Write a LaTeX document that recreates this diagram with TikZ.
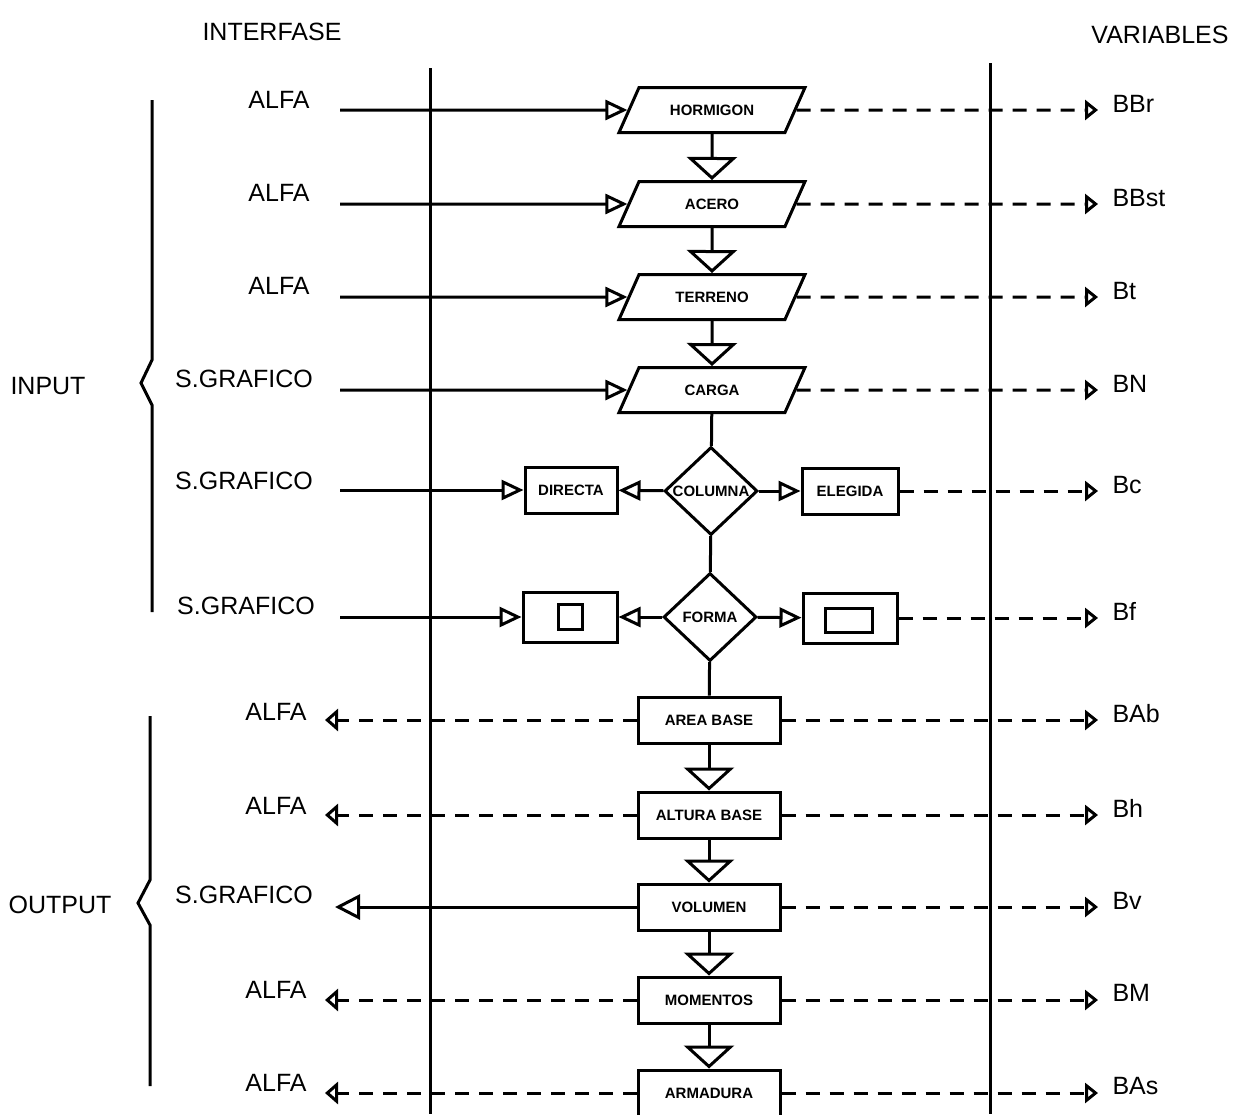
\documentclass[tikz,border=0pt]{standalone}
\usepackage{fontspec}
\setmainfont{Liberation Sans}
\usetikzlibrary{arrows.meta,shapes.geometric}
\begin{document}
\begin{tikzpicture}[x=1pt,y=-1pt,line width=3pt,
  lbl/.style={font=\fontsize{25}{25}\selectfont,inner sep=0pt},
  boxtxt/.style={font=\fontsize{15}{15}\selectfont\bfseries,inner sep=0pt},
  para/.style={draw,trapezium,trapezium left angle=66,trapezium right angle=114,
    trapezium stretches body,minimum width=186pt,text height=11pt,text depth=0pt,
    inner xsep=0pt,inner ysep=17pt,
    font=\fontsize{15}{15}\selectfont\bfseries},
  obox/.style={draw,rectangle,minimum width=142pt,minimum height=46pt,inner sep=0pt,
    font=\fontsize{15}{15}\selectfont\bfseries},
  sbox/.style={draw,rectangle,minimum height=46pt,inner sep=0pt,
    font=\fontsize{15}{15}\selectfont\bfseries},
  dia/.style={draw,diamond,minimum width=93pt,minimum height=88pt,inner sep=0pt},
  inarrow/.style={-{Triangle[open,length=22pt,width=20pt]}},
  flow/.style={-{Triangle[open,length=23pt,width=50pt]}},
  dsh/.style={dash pattern=on 14pt off 10pt},
  varrow/.style={dsh,-{Triangle[open,length=13pt,width=20pt]}},
  oarrow/.style={dsh,-{Triangle[open,length=13pt,width=22pt]}},
  sarrow/.style={-{Triangle[open,length=25pt,width=25pt]}}]
\useasboundingbox (0,0) rectangle (1233,1114);

% headers
\node[lbl] (hint) at (272,32) {INTERFASE};
\node[lbl] (hvar) at (1160,35) {VARIABLES};
\node[lbl] (inp) at (48,386) {INPUT};
\node[lbl] (outp) at (60,905) {OUTPUT};

% braces
\draw (152,100) -- (152,360) -- (141,383) -- (152,405) -- (152,612);
\draw (150,716) -- (150,880) -- (138,903) -- (150,925) -- (150,1086);

% vertical separators
\draw (430,68) -- (430,1114);
\draw (990,63) -- (990,1114);

% main column
\node[para] (hor) at (712,110) {HORMIGON};
\node[para] (ace) at (712,204) {ACERO};
\node[para] (ter) at (712,297) {TERRENO};
\node[para] (car) at (712,390) {CARGA};
\node[dia,label={[boxtxt]center:COLUMNA}] (col) at (711,491) {};
\node[sbox,minimum width=92pt] (dir) at (571,490) {DIRECTA};
\node[sbox,minimum width=96pt] (ele) at (850,491) {ELEGIDA};
\node[dia,label={[boxtxt]center:FORMA}] (for) at (710,617) {};
\node[sbox,minimum width=94pt,minimum height=50pt] (fl) at (570,617) {};
\node[draw,minimum width=24pt,minimum height=25pt,inner sep=0pt] (sq) at (570,617) {};
\node[sbox,minimum width=94pt,minimum height=50pt] (fr) at (850,618) {};
\node[draw,minimum width=47pt,minimum height=24pt,inner sep=0pt] (rc) at (849,620) {};
\node[obox] (are) at (709,720) {AREA BASE};
\node[obox] (alt) at (709,815) {ALTURA BASE};
\node[obox] (vol) at (709,907) {VOLUMEN};
\node[obox] (mom) at (709,1000) {MOMENTOS};
\node[obox] (arm) at (709,1093) {ARMADURA};

% flow connectors
\draw[flow] (hor) -- (ace);
\draw[flow] (ace) -- (ter);
\draw[flow] (ter) -- (car);
\draw (car) -- (col);
\draw (col) -- (for);
\draw (for) -- (are);
\draw[flow] (are) -- (alt);
\draw[flow] (alt) -- (vol);
\draw[flow] (vol) -- (mom);
\draw[flow] (mom) -- (arm);
\draw[inarrow] (col) -- (dir);
\draw[inarrow] (col) -- (ele);
\draw[inarrow] (for) -- (fl);
\draw[inarrow] (for) -- (fr);

% left labels
\node[lbl] (a1) at (279,100) {ALFA};
\node[lbl] (a2) at (279,193) {ALFA};
\node[lbl] (a3) at (279,286) {ALFA};
\node[lbl] (a4) at (244,379) {S.GRAFICO};
\node[lbl] (a5) at (244,481) {S.GRAFICO};
\node[lbl] (a6) at (246,606) {S.GRAFICO};
\node[lbl] (a7) at (276,712) {ALFA};
\node[lbl] (a8) at (276,806) {ALFA};
\node[lbl] (a9) at (244,895) {S.GRAFICO};
\node[lbl] (a10) at (276,990) {ALFA};
\node[lbl] (a11) at (276,1083) {ALFA};

% left line starts
\coordinate (l1) at (340,110);
\coordinate (l2) at (340,204);
\coordinate (l3) at (340,297);
\coordinate (l4) at (340,390);
\coordinate (l5) at (340,490);
\coordinate (l6) at (340,617);
\coordinate (o7) at (325,720);
\coordinate (o8) at (325,815);
\coordinate (o9) at (335,907);
\coordinate (o10) at (325,1000);
\coordinate (o11) at (325,1093);

\draw[inarrow] (l1) -- (hor);
\draw[inarrow] (l2) -- (ace);
\draw[inarrow] (l3) -- (ter);
\draw[inarrow] (l4) -- (car);
\draw[inarrow] (l5) -- (dir);
\draw[inarrow] (l6) -- (fl);
\draw[oarrow] (are) -- (o7);
\draw[oarrow] (alt) -- (o8);
\draw[sarrow] (vol) -- (o9);
\draw[oarrow] (mom) -- (o10);
\draw[oarrow] (arm) -- (o11);

% right variables
\coordinate (r1) at (1098,110);
\coordinate (r2) at (1098,204);
\coordinate (r3) at (1098,297);
\coordinate (r4) at (1098,390);
\coordinate (r5) at (1098,491);
\coordinate (r6) at (1098,618);
\coordinate (r7) at (1098,720);
\coordinate (r8) at (1098,815);
\coordinate (r9) at (1098,907);
\coordinate (r10) at (1098,1000);
\coordinate (r11) at (1098,1093);

\draw[varrow] (hor) -- (r1);
\draw[varrow] (ace) -- (r2);
\draw[varrow] (ter) -- (r3);
\draw[varrow] (car) -- (r4);
\draw[varrow] (ele) -- (r5);
\draw[varrow] (fr) -- (r6);
\draw[varrow] (are) -- (r7);
\draw[varrow] (alt) -- (r8);
\draw[varrow] (vol) -- (r9);
\draw[varrow] (mom) -- (r10);
\draw[varrow] (arm) -- (r11);

\node[lbl,anchor=west] (v1) at (1111,104) {BBr};
\node[lbl,anchor=west] (v2) at (1111,198) {BBst};
\node[lbl,anchor=west] (v3) at (1111,291) {Bt};
\node[lbl,anchor=west] (v4) at (1111,384) {BN};
\node[lbl,anchor=west] (v5) at (1111,485) {Bc};
\node[lbl,anchor=west] (v6) at (1111,611) {Bf};
\node[lbl,anchor=west] (v7) at (1111,714) {BAb};
\node[lbl,anchor=west] (v8) at (1111,808) {Bh};
\node[lbl,anchor=west] (v9) at (1111,901) {Bv};
\node[lbl,anchor=west] (v10) at (1111,993) {BM};
\node[lbl,anchor=west] (v11) at (1111,1086) {BAs};
\end{tikzpicture}
\end{document}
